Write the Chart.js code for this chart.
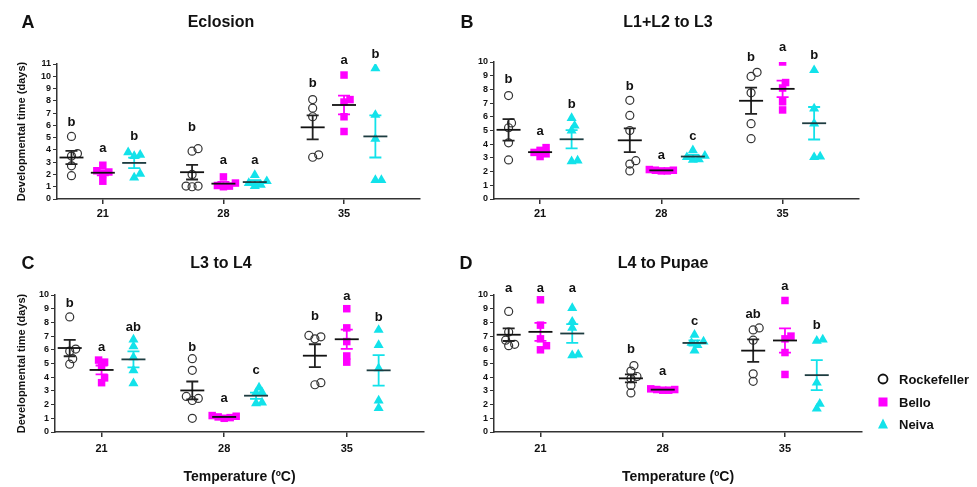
<!DOCTYPE html>
<html><head><meta charset="utf-8">
<script src="https://cdn.jsdelivr.net/npm/chart.js@4.4.1/dist/chart.umd.min.js"></script>
<style>
html,body{margin:0;padding:0;background:#fff;}
body{width:977px;height:487px;overflow:hidden;position:relative;font-family:"Liberation Sans",Arial,sans-serif;color:#111;}
canvas{position:absolute;left:0;top:0;}
.lbl{position:absolute;font-weight:bold;line-height:1;transform:translate(-50%,-50%);white-space:nowrap;}
.title{font-size:16px;}
.letter{font-size:18px;}
.leg{position:absolute;left:877px;font-weight:bold;font-size:13px;line-height:1;}
.leg span{position:absolute;left:22px;top:0;transform:translateY(-50%);white-space:nowrap;}
.leg svg{position:absolute;left:0;top:0;transform:translateY(-50%);}
</style></head><body>
<canvas id="cA" width="977" height="487"></canvas>
<canvas id="cB" width="977" height="487"></canvas>
<canvas id="cC" width="977" height="487"></canvas>
<canvas id="cD" width="977" height="487"></canvas>

<div class="lbl letter" style="left:28px;top:22px">A</div>
<div class="lbl title" style="left:221px;top:22px">Eclosion</div>
<div class="lbl letter" style="left:467px;top:22px">B</div>
<div class="lbl title" style="left:668px;top:22px">L1+L2 to L3</div>
<div class="lbl letter" style="left:28px;top:263px">C</div>
<div class="lbl title" style="left:221px;top:263px">L3 to L4</div>
<div class="lbl letter" style="left:466px;top:263px">D</div>
<div class="lbl title" style="left:663px;top:263px">L4 to Pupae</div>

<div class="leg" style="top:379px"><svg width="14" height="14"><circle cx="6" cy="7" r="4.5" fill="none" stroke="#111" stroke-width="1.8"/></svg><span>Rockefeller</span></div>
<div class="leg" style="top:402px"><svg width="14" height="14"><rect x="1.5" y="2.5" width="9" height="9" fill="#FF00FF"/></svg><span>Bello</span></div>
<div class="leg" style="top:424px"><svg width="14" height="14"><polygon points="6,1.5 11,11.5 1,11.5" fill="#12E2EA"/></svg><span>Neiva</span></div>

<script>
// ---------------- DATA ----------------
const temperatures = ['21', '28', '35'];
const strains = ['Rockefeller', 'Bello', 'Neiva'];

// Eclosion (days), per temperature
const eclosionRockefeller = [[5.1, 3.7, 3.5, 2.7, 1.9], [4.1, 3.9, 2.0, 1.05, 1.0, 1.05], [8.1, 7.4, 6.7, 3.6, 3.4]];
const eclosionBello       = [[2.75, 2.3, 2.2, 2.0, 1.45], [1.8, 1.3, 1.1, 1.0, 1.05], [10.1, 8.1, 7.9, 6.7, 5.5]];
const eclosionNeiva       = [[3.8, 3.6, 3.5, 2.05, 1.75], [1.95, 1.45, 1.3, 1.15, 1.05], [10.65, 6.85, 4.9, 1.55, 1.55]];
const eclosionLetters     = [['b', 'a', 'b'], ['b', 'a', 'a'], ['b', 'a', 'b']];
const eclosionLetterY     = [[6.25, 4.15, 5.1], [5.85, 3.15, 3.15], [9.4, 11.3, 11.8]];

// L1+L2 to L3
const l12Rockefeller = [[7.55, 5.55, 5.2, 4.1, 2.85], [7.2, 6.1, 5.0, 2.8, 2.55, 2.05], [9.25, 8.95, 7.75, 5.5, 4.4]];
const l12Bello       = [[3.75, 3.55, 3.4, 3.3, 3.1], [2.15, 2.1, 2.1, 2.05, 2.05], [10.0, 8.5, 8.1, 7.1, 6.5]];
const l12Neiva       = [[5.9, 5.35, 5.0, 2.8, 2.75], [3.55, 3.15, 3.05, 2.9, 2.85], [9.4, 6.6, 5.5, 3.1, 3.05]];
const l12Letters     = [['b', 'a', 'b'], ['b', 'a', 'c'], ['b', 'a', 'b']];
const l12LetterY     = [[8.75, 4.9, 6.9], [8.25, 3.15, 4.55], [10.35, 11.1, 10.45]];

// L3 to L4
const l34Rockefeller = [[8.4, 6.05, 5.9, 5.35, 4.95], [5.35, 4.5, 2.6, 2.45, 2.3, 1.0], [7.05, 6.95, 6.8, 3.6, 3.45]];
const l34Bello       = [[5.25, 5.1, 4.75, 3.95, 3.6], [1.2, 1.15, 1.1, 1.05, 1.0], [9.0, 7.6, 6.6, 5.55, 5.1]];
const l34Neiva       = [[6.75, 6.25, 5.45, 4.5, 3.55], [3.25, 2.9, 2.85, 2.15, 2.1], [7.45, 6.35, 4.65, 2.3, 1.75]];
const l34Letters     = [['b', 'a', 'ab'], ['b', 'a', 'c'], ['b', 'a', 'b']];
const l34LetterY     = [[9.4, 6.15, 7.65], [6.2, 2.45, 4.5], [8.45, 9.9, 8.35]];

// L4 to Pupae
const l4pRockefeller = [[8.8, 7.3, 6.7, 6.4, 6.3], [4.85, 4.45, 4.05, 3.9, 3.4, 2.85], [7.6, 7.45, 6.7, 4.25, 3.7]];
const l4pBello       = [[9.65, 7.8, 6.8, 6.3, 6.0], [3.15, 3.1, 3.1, 3.05, 3.05], [9.6, 7.0, 6.8, 5.8, 4.2]];
const l4pNeiva       = [[9.05, 8.05, 7.6, 5.65, 5.6], [7.1, 6.6, 6.5, 6.35, 5.95], [6.75, 6.65, 3.6, 2.05, 1.7]];
const l4pLetters     = [['a', 'a', 'a'], ['b', 'a', 'c'], ['ab', 'a', 'b']];
const l4pLetterY     = [[10.45, 10.45, 10.45], [6.0, 4.4, 8.1], [8.6, 10.6, 7.8]];

const yTitle = 'Developmental time (days)';
const xTitle = 'Temperature (ºC)';

// ---------------- STYLE / LAYOUT ----------------
Chart.defaults.font.family = "'Liberation Sans', Arial, sans-serif";
Chart.defaults.font.weight = 'bold';
Chart.defaults.color = '#111';

const W = 977, H = 487;
const XMIN = -0.38, XMAX = 2.63;
const strainOffset = [-0.26, 0, 0.26];
const colors = ['#222222', '#FF00FF', '#12E2EA'];
const pointStyles = [
  {pointStyle: 'circle', radius: 4, backgroundColor: 'rgba(255,255,255,0)', borderColor: '#333', borderWidth: 1.2},
  {pointStyle: 'rect', radius: 5.3, backgroundColor: '#FF00FF', borderColor: '#FF00FF', borderWidth: 0},
  {pointStyle: 'triangle', radius: 5.8, backgroundColor: '#12E2EA', borderColor: '#12E2EA', borderWidth: 0}
];

function mean(a) { return a.reduce((s, v) => s + v, 0) / a.length; }
function sem(a) {
  const m = mean(a);
  const sd = Math.sqrt(a.reduce((s, v) => s + (v - m) * (v - m), 0) / (a.length - 1));
  return sd / Math.sqrt(a.length);
}

// deterministic scatter spread so overlapping points sit side by side
function spread(values, cx, ppx, ppy) {
  const order = values.map((v, i) => i).sort((a, b) => values[a] - values[b]);
  const placed = [];
  const out = new Array(values.length);
  const step = 3, minD = 5.5;
  order.forEach(i => {
    const py = values[i] * ppy;
    let chosen = 0;
    for (let k = 0; k < 30; k++) {
      const cand = k === 0 ? 0 : (k % 2 ? 1 : -1) * Math.ceil(k / 2) * step;
      if (placed.every(p => Math.hypot(p.px - cand, p.py - py) >= minD)) { chosen = cand; break; }
    }
    placed.push({px: chosen, py});
    out[i] = {x: cx + chosen / ppx, y: values[i]};
  });
  return out;
}

function makePanel(id, cfg) {
  const series = [cfg.r, cfg.b, cfg.n];
  const area = cfg.area;
  const ppx = (area.r - area.l) / (XMAX - XMIN);
  const ppy = (area.b - area.t) / cfg.ymax;

  const datasets = strains.map((name, s) => {
    let pts = [];
    series[s].forEach((vals, t) => { pts = pts.concat(spread(vals, t + strainOffset[s], ppx, ppy)); });
    return Object.assign({label: name, data: pts}, pointStyles[s]);
  });

  const statsPlugin = {
    id: 'stats_' + id,
    afterDatasetsDraw(chart) {
      const ctx = chart.ctx, xs = chart.scales.x, ys = chart.scales.y;
      ctx.save();
      series.forEach((perT, s) => {
        perT.forEach((vals, t) => {
          const gx = t + strainOffset[s];
          const m = mean(vals), e = sem(vals);
          const px = xs.getPixelForValue(gx);
          const pm = ys.getPixelForValue(m), pu = ys.getPixelForValue(m + e), pl = ys.getPixelForValue(m - e);
          ctx.lineCap = 'butt';
          ctx.strokeStyle = colors[s];
          ctx.lineWidth = 1.8;
          ctx.beginPath();
          ctx.moveTo(px, pu); ctx.lineTo(px, pl);
          ctx.moveTo(px - 6, pu); ctx.lineTo(px + 6, pu);
          ctx.moveTo(px - 6, pl); ctx.lineTo(px + 6, pl);
          ctx.stroke();
          ctx.strokeStyle = s === 2 ? '#1d3c40' : '#111';
          ctx.lineWidth = 1.8;
          ctx.beginPath();
          ctx.moveTo(px - 12, pm); ctx.lineTo(px + 12, pm);
          ctx.stroke();
        });
      });
      // significance letters
      ctx.fillStyle = '#111';
      ctx.font = "bold 13px 'Liberation Sans', Arial, sans-serif";
      ctx.textAlign = 'center';
      ctx.textBaseline = 'middle';
      cfg.letters.forEach((row, t) => {
        row.forEach((txt, s) => {
          ctx.fillText(txt, xs.getPixelForValue(t + strainOffset[s]), ys.getPixelForValue(cfg.letterY[t][s]));
        });
      });
      ctx.restore();
    }
  };

  const yAxisLeft = cfg.yTitle ? 15.4 : area.l - 40;
  const xAxisH = cfg.xTitle ? 54 : 30;

  new Chart(document.getElementById(id), {
    type: 'scatter',
    data: {datasets},
    options: {
      responsive: false,
      animation: false,
      events: [],
      layout: {padding: {left: yAxisLeft, top: area.t, right: W - area.r, bottom: H - area.b - xAxisH}},
      plugins: {legend: {display: false}, tooltip: {enabled: false}},
      scales: {
        x: {
          type: 'linear', min: XMIN, max: XMAX,
          afterBuildTicks: sc => { sc.ticks = temperatures.map((t, i) => ({value: i})); },
          afterFit: sc => { sc.height = xAxisH; },
          ticks: {callback: v => temperatures[v], font: {size: 11, weight: 'bold'}, color: '#111', padding: cfg.xTickPad, maxRotation: 0},
          grid: {drawOnChartArea: false, drawTicks: true, tickLength: 5, color: '#333', lineWidth: 1.5},
          border: {display: true, color: '#333', width: 1.5},
          title: {display: !!cfg.xTitle, text: xTitle, font: {size: 14, weight: 'bold'}, color: '#111', padding: {top: 0, bottom: 0}}
        },
        y: {
          min: 0, max: cfg.ymax,
          afterFit: sc => { sc.width = area.l - yAxisLeft; },
          ticks: {stepSize: 1, autoSkip: false, font: {size: 9, weight: 'bold'}, color: '#111', padding: 2},
          grid: {drawOnChartArea: false, drawTicks: true, tickLength: 4, color: '#333', lineWidth: 1},
          border: {display: true, color: '#333', width: 1.5},
          title: {display: !!cfg.yTitle, text: yTitle, font: {size: 11, weight: 'bold'}, color: '#111', padding: {top: 0, bottom: 0}}
        }
      }
    },
    plugins: [statsPlugin]
  });
}

makePanel('cA', {r: eclosionRockefeller, b: eclosionBello, n: eclosionNeiva, letters: eclosionLetters, letterY: eclosionLetterY,
  ymax: 11, area: {l: 57, t: 64, r: 420, b: 199}, yTitle: true, xTitle: false, xTickPad: 3});
makePanel('cB', {r: l12Rockefeller, b: l12Bello, n: l12Neiva, letters: l12Letters, letterY: l12LetterY,
  ymax: 10, area: {l: 494, t: 62, r: 859, b: 199}, yTitle: false, xTitle: false, xTickPad: 3});
makePanel('cC', {r: l34Rockefeller, b: l34Bello, n: l34Neiva, letters: l34Letters, letterY: l34LetterY,
  ymax: 10, area: {l: 55, t: 295, r: 424, b: 432}, yTitle: true, xTitle: true, xTickPad: 5});
makePanel('cD', {r: l4pRockefeller, b: l4pBello, n: l4pNeiva, letters: l4pLetters, letterY: l4pLetterY,
  ymax: 10, area: {l: 494, t: 295, r: 862, b: 432}, yTitle: false, xTitle: true, xTickPad: 5});
</script>
</body></html>
